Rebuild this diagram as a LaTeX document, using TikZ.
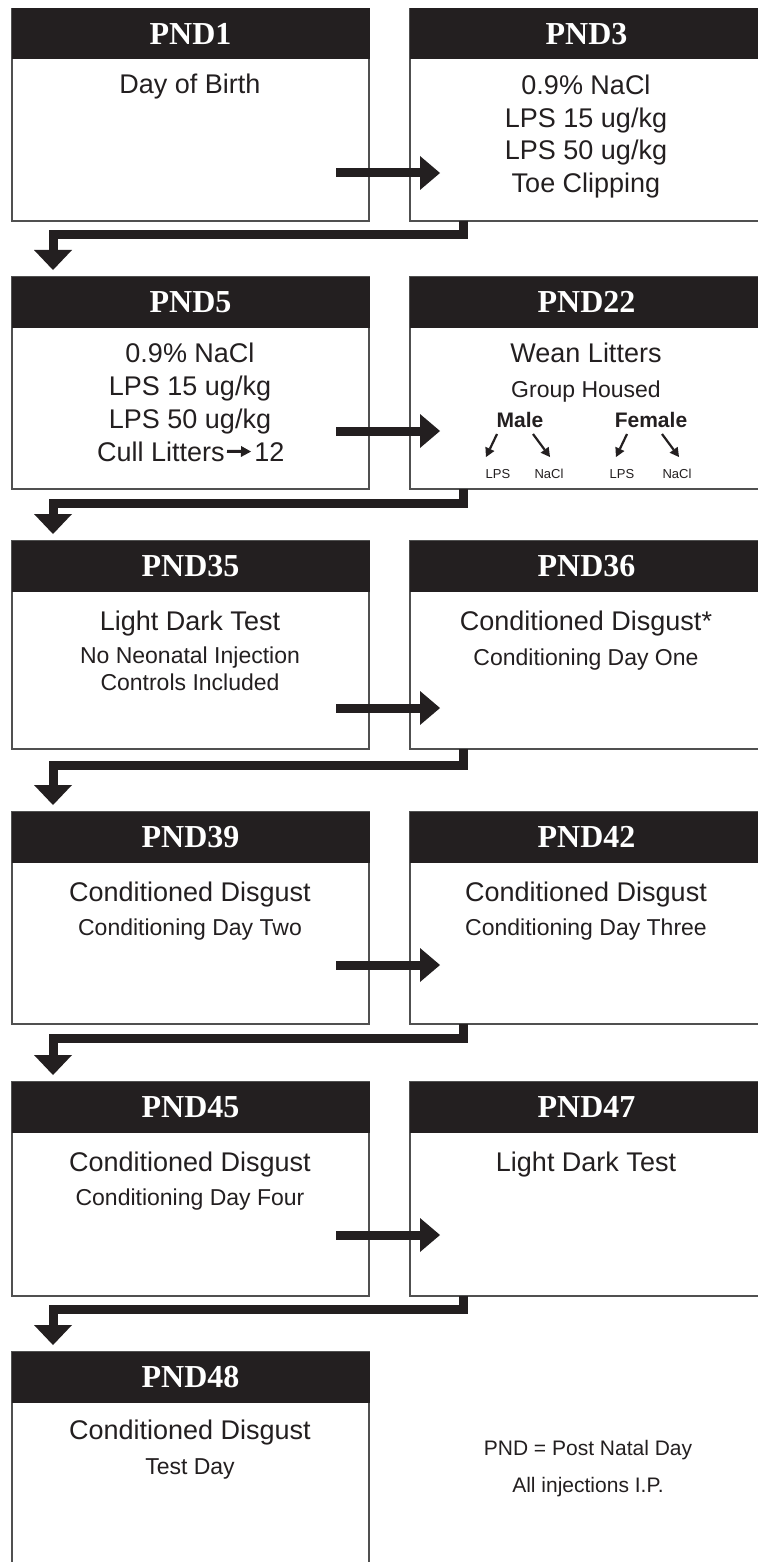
\documentclass[tikz,border=0pt]{standalone}
\usepackage{fontspec}
\setmainfont{Liberation Sans}
\newfontfamily\hdfont{Liberation Serif}
\usetikzlibrary{arrows.meta,calc}
\definecolor{ink}{HTML}{231F20}
\definecolor{edge}{HTML}{505050}
\begin{document}
\begin{tikzpicture}[x=0.5pt,y=-0.5pt,
  box/.style={draw=edge,line width=1pt,fill=white,minimum width=178.5pt,minimum height=106pt,inner sep=0pt,outer sep=0pt,anchor=north west},
  rbox/.style={box,minimum width=176.5pt},
  hdr/.style={fill=ink,draw=ink,line width=0.5pt,minimum height=25pt,inner sep=0pt,outer sep=0pt,anchor=north,text=white,font=\hdfont\bfseries\fontsize{16}{16}\selectfont},
  lhdr/.style={hdr,minimum width=178.5pt},
  rhdr/.style={hdr,minimum width=176.5pt},
  big/.style={anchor=base,text=ink,inner sep=0pt,font=\fontsize{13.5}{14}\selectfont},
  small/.style={anchor=base,text=ink,inner sep=0pt,font=\fontsize{11.5}{12}\selectfont},
  sex/.style={anchor=base,text=ink,inner sep=0pt,font=\bfseries\fontsize{10.5}{11}\selectfont},
  tiny/.style={anchor=base,text=ink,inner sep=0pt,font=\fontsize{6.5}{7}\selectfont},
  foot/.style={anchor=base,text=ink,inner sep=0pt,font=\fontsize{10.5}{11}\selectfont},
  harrow/.style={draw=ink,line width=4.5pt,-{Triangle[length=10pt,width=17pt,line width=0pt]}},
  varrow/.style={draw=ink,line width=4.5pt,line join=miter,-{Triangle[length=10pt,width=19pt,line width=0pt]}},
  minarrow/.style={draw=ink,line width=1.5pt,-{Triangle[length=5pt,width=5.5pt,line width=0pt]}},
  sarrow/.style={draw=ink,line width=1.1pt,-{Triangle[length=4.5pt,width=5pt,line width=0pt]}}
]
\useasboundingbox (0,0) rectangle (758,1562);
\clip (0,0) rectangle (758,1562);
\fill[white] (0,0) rectangle (758,1562);

% ---------- boxes ----------
\node[box]  (b1)  at (12,9) {};
\node[rbox] (b2)  at (410,9) {};
\node[box]  (b3)  at (12,277) {};
\node[rbox] (b4)  at (410,277) {};
\node[box,minimum height=104pt]  (b5)  at (12,541) {};
\node[rbox,minimum height=104pt] (b6)  at (410,541) {};
\node[box]  (b7)  at (12,812) {};
\node[rbox] (b8)  at (410,812) {};
\node[box,minimum height=107pt]  (b9)  at (12,1082) {};
\node[rbox,minimum height=107pt] (b10) at (410,1082) {};
\node[box,minimum height=120pt]  (b11) at (12,1352) {};

% ---------- headers ----------
\node[lhdr] (h1)  at (b1.north)  {PND1};
\node[rhdr] (h2)  at (b2.north)  {PND3};
\node[lhdr] (h3)  at (b3.north)  {PND5};
\node[rhdr] (h4)  at (b4.north)  {PND22};
\node[lhdr] (h5)  at (b5.north)  {PND35};
\node[rhdr] (h6)  at (b6.north)  {PND36};
\node[lhdr] (h7)  at (b7.north)  {PND39};
\node[rhdr] (h8)  at (b8.north)  {PND42};
\node[lhdr] (h9)  at (b9.north)  {PND45};
\node[rhdr] (h10) at (b10.north) {PND47};
\node[lhdr] (h11) at (b11.north) {PND48};

% ---------- texts ----------
\node[big] (t1) at (190,94) {Day of Birth};

\node[big] (t2a) at (586,95)  {0.9\% NaCl};
\node[big] (t2b) at (586,128) {LPS 15 ug/kg};
\node[big] (t2c) at (586,160) {LPS 50 ug/kg};
\node[big] (t2d) at (586,193) {Toe Clipping};

\node[big] (t3a) at (190,362) {0.9\% NaCl};
\node[big] (t3b) at (190,395) {LPS 15 ug/kg};
\node[big] (t3c) at (190,428) {LPS 50 ug/kg};
\node[big,anchor=base east] (cull) at (225,461) {Cull Litters};
\node[big,anchor=base west] (twelve) at (254,461) {12};
\draw[minarrow,shorten <=1pt,shorten >=1.5pt] (cull.east) -- (twelve.west);

\node[big]   (t4a) at (586,362) {Wean Litters};
\node[small] (t4b) at (586,397) {Group Housed};
\node[sex]   (male)   at (520,427) {Male};
\node[sex]   (female) at (651,427) {Female};
\node[tiny]  (l1) at (498,478) {LPS};
\node[tiny]  (n1) at (549,478) {NaCl};
\node[tiny]  (l2) at (622,478) {LPS};
\node[tiny]  (n2) at (677,478) {NaCl};
\coordinate (ma1) at (497,434); \coordinate (mb1) at (486,457);
\coordinate (ma2) at (533,434); \coordinate (mb2) at (550,457);
\coordinate (fa1) at (627,434); \coordinate (fb1) at (616,457);
\coordinate (fa2) at (662,434); \coordinate (fb2) at (679,457);
\draw[sarrow] (ma1) -- (mb1);
\draw[sarrow] (ma2) -- (mb2);
\draw[sarrow] (fa1) -- (fb1);
\draw[sarrow] (fa2) -- (fb2);

\node[big]   (t5a) at (190,630) {Light Dark Test};
\node[small] (t5b) at (190,663) {No Neonatal Injection};
\node[small] (t5c) at (190,690) {Controls Included};

\node[big]   (t6a) at (586,630) {Conditioned Disgust*};
\node[small] (t6b) at (586,665) {Conditioning Day One};

\node[big]   (t7a) at (190,901) {Conditioned Disgust};
\node[small] (t7b) at (190,935) {Conditioning Day Two};

\node[big]   (t8a) at (586,901) {Conditioned Disgust};
\node[small] (t8b) at (586,935) {Conditioning Day Three};

\node[big]   (t9a) at (190,1171) {Conditioned Disgust};
\node[small] (t9b) at (190,1205) {Conditioning Day Four};

\node[big]   (t10a) at (586,1171) {Light Dark Test};

\node[big]   (t11a) at (190,1439) {Conditioned Disgust};
\node[small] (t11b) at (190,1474) {Test Day};

\node[foot] (f1) at (588,1455) {PND = Post Natal Day};
\node[foot] (f2) at (588,1492) {All injections I.P.};

% ---------- horizontal arrows ----------
\coordinate (a1s) at (336,173);  \coordinate (a1e) at (440,173);
\coordinate (a2s) at (336,431);  \coordinate (a2e) at (440,431);
\coordinate (a3s) at (336,708);  \coordinate (a3e) at (440,708);
\coordinate (a4s) at (336,965);  \coordinate (a4e) at (440,965);
\coordinate (a5s) at (336,1235); \coordinate (a5e) at (440,1235);
\draw[harrow] (a1s) -- (a1e);
\draw[harrow] (a2s) -- (a2e);
\draw[harrow] (a3s) -- (a3e);
\draw[harrow] (a4s) -- (a4e);
\draw[harrow] (a5s) -- (a5e);

% ---------- down connectors ----------
\draw[varrow] ($(b2.south west)+(53,0)$) -- ++(0,14) -| ($(b3.north west)+(41,-7)$);
\draw[varrow] ($(b4.south west)+(53,0)$) -- ++(0,14) -| ($(b5.north west)+(41,-7)$);
\draw[varrow] ($(b6.south west)+(53,0)$) -- ++(0,16) -| ($(b7.north west)+(41,-7)$);
\draw[varrow] ($(b8.south west)+(53,0)$) -- ++(0,14) -| ($(b9.north west)+(41,-7)$);
\draw[varrow] ($(b10.south west)+(53,0)$) -- ++(0,13) -| ($(b11.north west)+(41,-7)$);
\end{tikzpicture}
\end{document}
